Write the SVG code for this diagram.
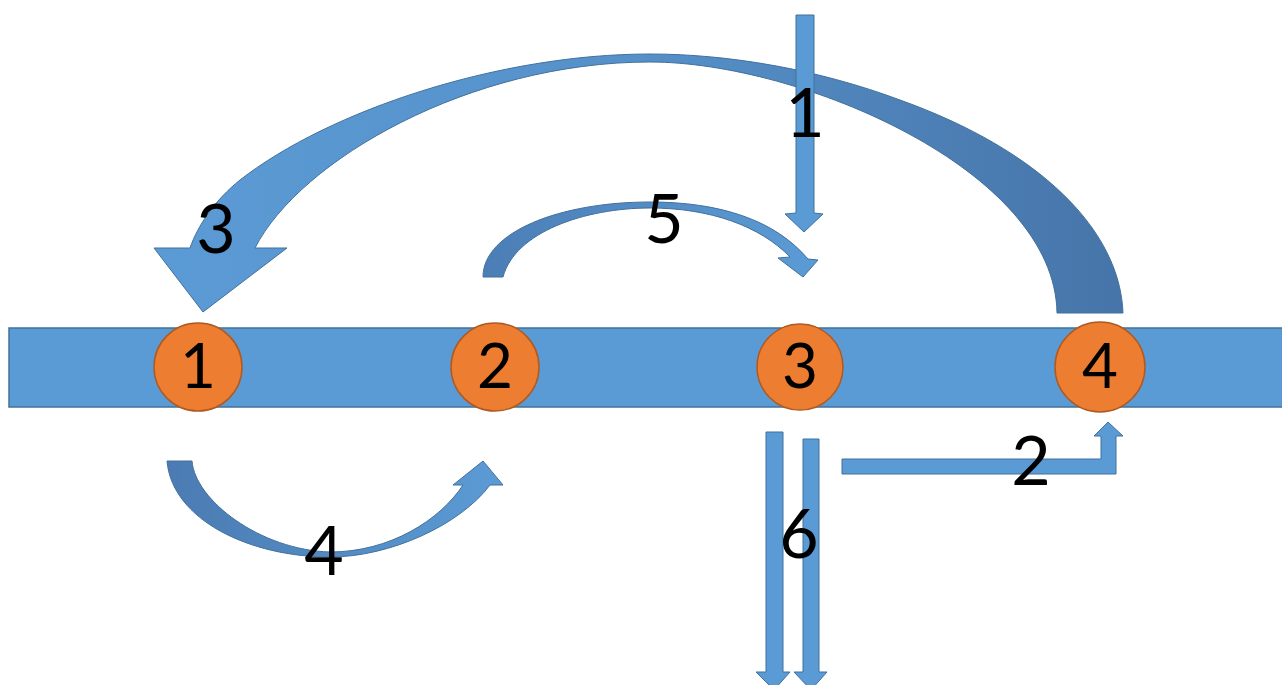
<svg xmlns="http://www.w3.org/2000/svg" width="1282" height="685" viewBox="0 0 1282 685">
  <defs>
    <linearGradient id="gBig" gradientUnits="userSpaceOnUse" x1="150" y1="0" x2="1130" y2="0">
      <stop offset="0" stop-color="#5B9BD5"/>
      <stop offset="0.5" stop-color="#5690C9"/>
      <stop offset="1" stop-color="#4674A8"/>
    </linearGradient>
    <linearGradient id="g5" gradientUnits="userSpaceOnUse" x1="483" y1="0" x2="818" y2="0">
      <stop offset="0" stop-color="#4C7EB6"/>
      <stop offset="1" stop-color="#5B9BD5"/>
    </linearGradient>
    <linearGradient id="g4" gradientUnits="userSpaceOnUse" x1="167" y1="0" x2="503" y2="0">
      <stop offset="0" stop-color="#4B7BB2"/>
      <stop offset="1" stop-color="#5B9BD5"/>
    </linearGradient>
    <style>
      .bar { fill: #5B9BD5; stroke: #41719C; stroke-width: 1.5; }
      .node { fill: #ED7D31; stroke: #AE5A21; stroke-width: 1.5; }
      .arrow { fill: #5B9BD5; stroke: #41719C; stroke-width: 1; stroke-linejoin: miter; }
      .num { font-family: Lato, "Liberation Sans", sans-serif; font-size: 62px; fill: #000; text-anchor: middle; }
      .lbl { font-family: Lato, "Liberation Sans", sans-serif; font-size: 68px; fill: #000; text-anchor: middle; }
    </style>
  </defs>
  <rect width="1282" height="685" fill="#FFFFFF"/>

  <g id="track">
    <rect class="bar" x="9" y="328" width="1280" height="79"/>
  </g>

  <g id="connectors">
    <path id="arrow3" class="arrow" fill="url(#gBig)" style="fill:url(#gBig)" d="M1123,313 C1120,230 1040,150 900,100 C820,70 730,54 650,54 C500,54 330,110 240,180 C215,200 198,225 190,248 L154,248 L203,312 L287,248 L255,248 C300,160 470,62 650,62 C800,62 1055,170 1057,313 Z"/>
    <path id="arrow1" class="arrow" d="M796,15 L814,15 L814,213 L823,214 L804,232 L785,214 L796,213 Z"/>
    <path id="arrow5" class="arrow" style="fill:url(#g5)" d="M483,277 C483,232 560,202 650,202 C720,202 775,220 808,259 L818,260 L803,277 L778,258 L790,257 C760,226 710,208 650,208 C585,208 515,232 503,277 Z"/>
    <path id="arrow4" class="arrow" style="fill:url(#g4)" d="M167,461 L192,461 C195,500 260,550 330,552 C390,552 440,520 463,485 L453,485 L483,461 L503,485 L490,485 C460,525 390,557 330,557 C250,557 172,520 167,461 Z"/>
    <path id="arrow2" class="arrow" d="M842,459 L1101,459 L1101,436 L1094,436 L1108,422 L1123,436 L1116,436 L1116,474 L842,474 Z"/>
    <path id="arrow6a" class="arrow" d="M766,432 L783,432 L783,672 L790,672 L774,690 L756,672 L766,672 Z"/>
    <path id="arrow6b" class="arrow" d="M803,439 L819,439 L819,672 L827,672 L811,690 L794,672 L803,672 Z"/>
    <text class="lbl" x="805" y="137">1</text>
    <text class="lbl" x="1031" y="485">2</text>
    <text class="lbl" x="216" y="253">3</text>
    <text class="lbl" x="324" y="575">4</text>
    <text class="lbl" x="664" y="243">5</text>
    <text class="lbl" x="799" y="558">6</text>
  </g>

  <g id="node1">
    <circle class="node" cx="198" cy="367" r="44"/>
    <text class="num" x="198" y="388">1</text>
  </g>
  <g id="node2">
    <circle class="node" cx="495" cy="367" r="44"/>
    <text class="num" x="495" y="388">2</text>
  </g>
  <g id="node3">
    <circle class="node" cx="800" cy="367" r="43"/>
    <text class="num" x="800" y="388">3</text>
  </g>
  <g id="node4">
    <circle class="node" cx="1100" cy="367" r="45"/>
    <text class="num" x="1100" y="388">4</text>
  </g>
</svg>
